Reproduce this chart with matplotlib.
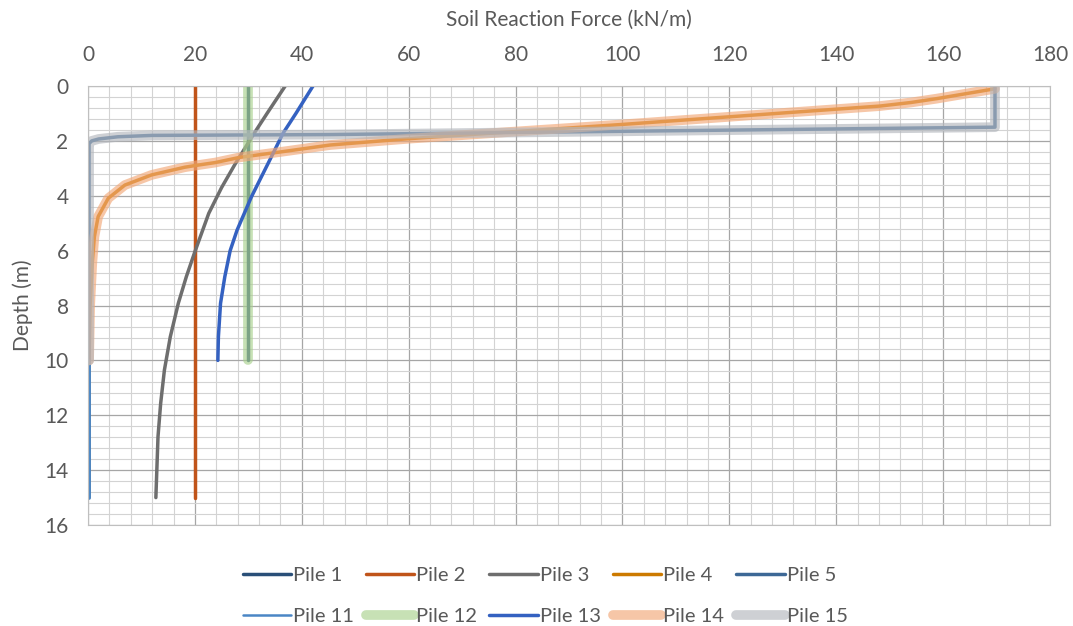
import matplotlib.pyplot as plt
from matplotlib.ticker import MultipleLocator

plt.rcParams['font.family'] = ['Lato', 'DejaVu Sans']

# depth (m) and soil reaction force (kN/m)
p1_f = [30, 30]
p1_d = [0, 10]

p2_f = [20, 20]
p2_d = [0, 15]

p3_d = [0, 1, 1.72, 2.82, 3.7, 4.64, 6.04, 6.95, 7.92, 9.14, 10.35, 11.56, 12.78, 15]
p3_f = [36.9, 33.5, 31.1, 27.6, 25.0, 22.6, 20, 18.4, 16.9, 15.4, 14.3, 13.6, 13.1, 12.7]

p4_f = [169.7, 158.8, 154, 148.2, 100, 80, 60, 45.3, 36.5, 28.4, 23.8, 20, 18.1,
        11.9, 6.9, 3.8, 1.9, 1.2, 0.8, 0.4, 0.2]
p4_d = [0.1, 0.46, 0.6, 0.73, 1.4, 1.66, 1.92, 2.15, 2.39, 2.6, 2.79, 2.9, 2.96,
        3.24, 3.61, 4.09, 4.76, 5.49, 6.45, 8, 10]

p5_f = [169.7, 169.7, 100, 45, 12, 5.6, 2, 0.7, 0.2, 0.2, 0.2]
p5_d = [0, 1.5, 1.65, 1.77, 1.8, 1.85, 1.93, 2.0, 2.1, 10, 15]

p11_f = [0.2, 0.2]
p11_d = [10, 15]

p12_f = [30, 30]
p12_d = [0, 10]

p13_d = [0, 1, 1.72, 2.82, 4.03, 5.25, 6.0, 6.95, 7.92, 9.14, 10]
p13_f = [42.1, 38.9, 36.5, 33.7, 30.6, 27.9, 26.6, 25.6, 24.8, 24.4, 24.3]

p14_f = p4_f
p14_d = p4_d

p15_f = [169.7, 169.7, 100, 45, 12, 5.6, 2, 0.7, 0.2, 0.2]
p15_d = [0, 1.5, 1.65, 1.77, 1.8, 1.85, 1.93, 2.0, 2.1, 10]

fig = plt.figure(figsize=(10.73, 6.26), dpi=100)
ax = fig.add_axes([0.082, 0.1613, 0.8966, 0.7013])

kw = dict(solid_capstyle='round', solid_joinstyle='round')
ax.plot(p1_f, p1_d, color='#2A4F78', lw=2.5, label='Pile 1', **kw)
ax.plot(p2_f, p2_d, color='#C0541A', lw=2.5, label='Pile 2', **kw)
ax.plot(p3_f, p3_d, color='#6E6E6E', lw=2.5, label='Pile 3', **kw)
ax.plot(p4_f, p4_d, color='#CC7A00', lw=2.5, label='Pile 4', **kw)
ax.plot(p5_f, p5_d, color='#3D6896', lw=2.5, label='Pile 5', **kw)
ax.plot(p11_f, p11_d, color='#4A86C5', lw=1.8, label='Pile 11', **kw)
ax.plot(p12_f, p12_d, color='#A9D18E', lw=7, alpha=0.65, label='Pile 12', **kw)
ax.plot(p13_f, p13_d, color='#3461C1', lw=2.5, label='Pile 13', **kw)
ax.plot(p14_f, p14_d, color='#F2A878', lw=7, alpha=0.65, label='Pile 14', **kw)
ax.plot(p15_f, p15_d, color='#B4B8BE', lw=7, alpha=0.65, label='Pile 15', **kw)

ax.set_xlim(0, 180)
ax.set_ylim(16, 0)
ax.xaxis.set_major_locator(MultipleLocator(20))
ax.xaxis.set_minor_locator(MultipleLocator(4))
ax.yaxis.set_major_locator(MultipleLocator(2))
ax.yaxis.set_minor_locator(MultipleLocator(0.4))
ax.grid(which='major', color='#A6A6A6', lw=0.9)
ax.grid(which='minor', color='#D3D3D3', lw=0.8)
ax.set_axisbelow(True)

ax.xaxis.tick_top()
ax.xaxis.set_label_position('top')
ax.tick_params(which='both', length=0, colors='#595959', labelsize=15)
ax.tick_params(axis='x', pad=15)
ax.tick_params(axis='y', pad=14)
for s in ax.spines.values():
    s.set_color('#BFBFBF')

ax.set_xlabel('Soil Reaction Force (kN/m)', fontsize=15, color='#595959', labelpad=14)
ax.set_ylabel('Depth (m)', fontsize=15, color='#595959', labelpad=8)

# legend filled row by row, like the original
h, l = ax.get_legend_handles_labels()
order = [0, 5, 1, 6, 2, 7, 3, 8, 4, 9]
fig.legend([h[i] for i in order], [l[i] for i in order], loc='lower center', ncol=5,
           bbox_to_anchor=(0.508, -0.028), frameon=False, fontsize=14.5,
           labelcolor='#595959', handlelength=2.4, handletextpad=0.1,
           columnspacing=0.6, labelspacing=1.2)

fig.savefig('out.png', dpi=100)
